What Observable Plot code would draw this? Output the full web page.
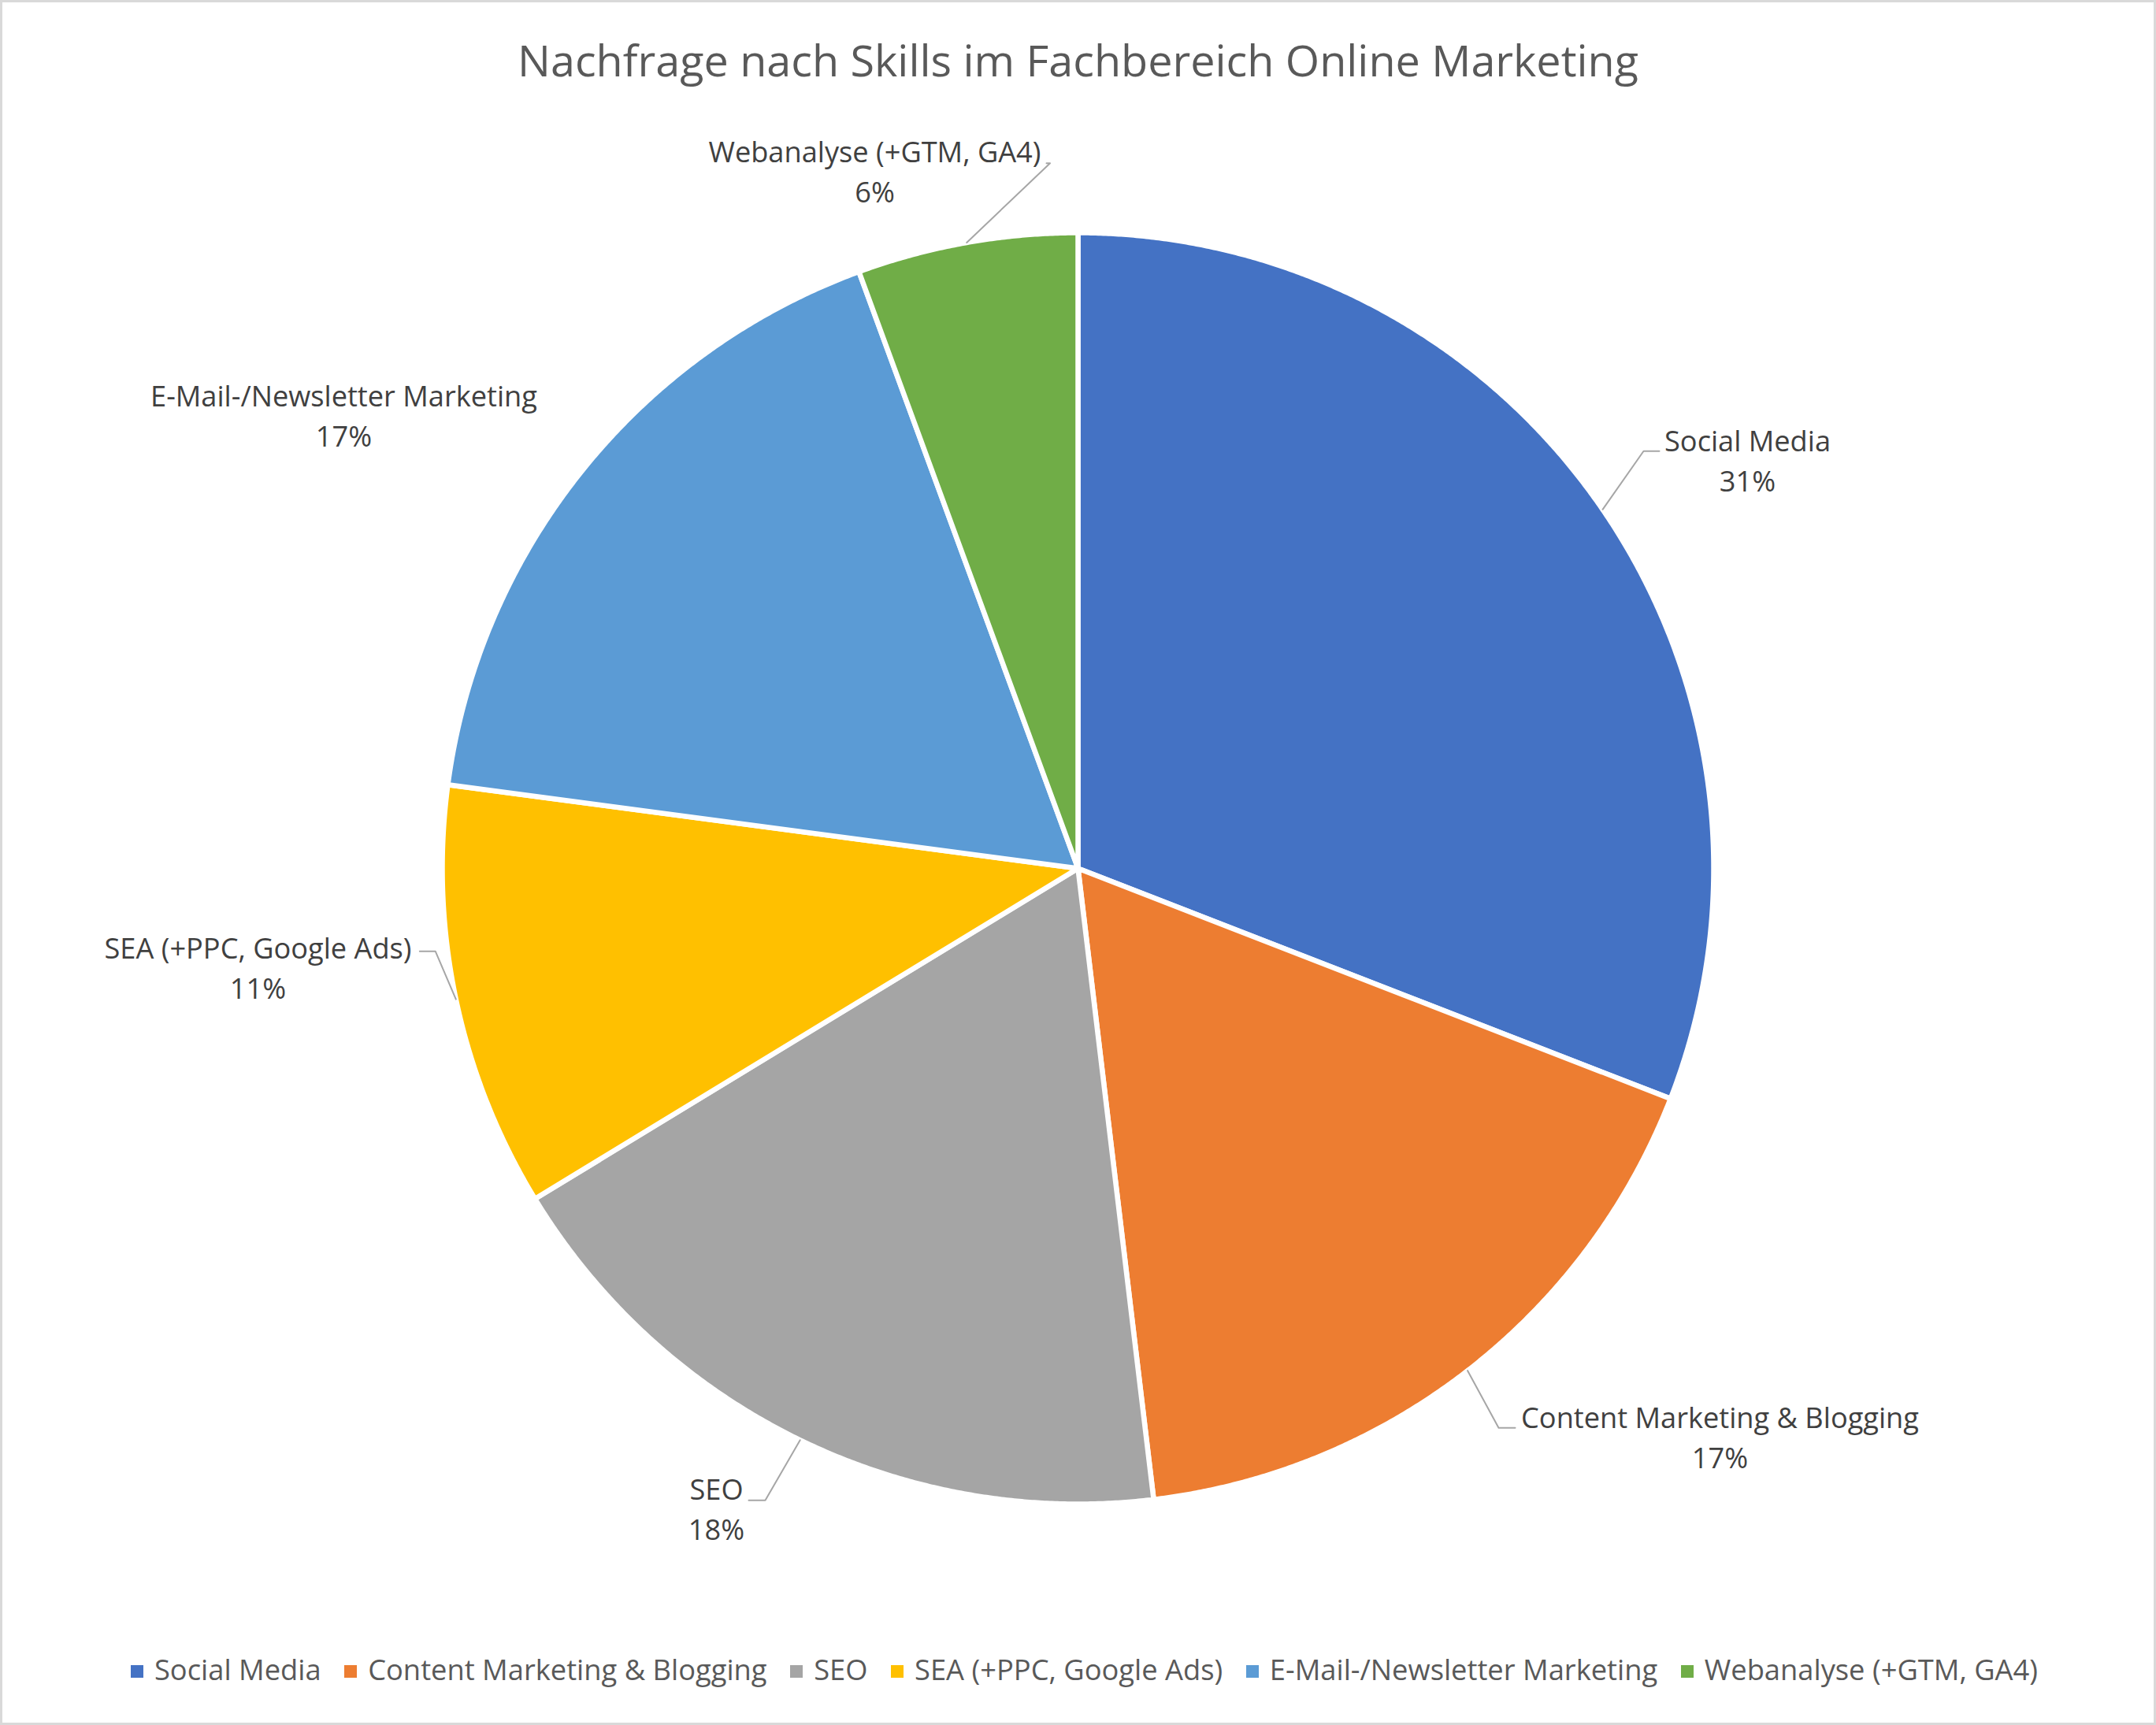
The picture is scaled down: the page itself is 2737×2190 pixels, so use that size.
<!DOCTYPE html>
<html><head><meta charset="utf-8">
<script src="https://cdn.jsdelivr.net/npm/d3@7"></script>
<script src="https://cdn.jsdelivr.net/npm/@observablehq/plot@0.6"></script>
<style>
html,body{margin:0;padding:0;background:#fff;}
#chart{position:relative;width:2737px;height:2190px;overflow:hidden;font-family:"Open Sans",sans-serif;background:#fff;}
#plot{position:absolute;left:0;top:0;}
#frame{position:absolute;left:0;top:0;width:2737px;height:2190px;box-sizing:border-box;border:3px solid #d9d9d9;pointer-events:none;}
#title{position:absolute;left:0;width:2737px;top:47.8px;text-align:center;font-size:55.7px;line-height:55.7px;color:#595959;white-space:nowrap;}
#legend{position:absolute;left:0;width:2737px;top:2100.6px;display:flex;justify-content:center;font-size:36.3px;line-height:36.3px;color:#595959;white-space:nowrap;transform:translateX(8px);}
#legend .item{margin:0 14.8px;}
#legend .sw{display:inline-block;width:16px;height:16px;margin-right:14px;position:relative;top:-2.7px;vertical-align:baseline;}
</style></head><body>
<div id="chart"><div id="plot"></div><div id="frame"></div><div id="title"></div><div id="legend"></div></div>
<script>
// ---- data ----
const titleText = "Nachfrage nach Skills im Fachbereich Online Marketing";
const categories = ["Social Media", "Content Marketing & Blogging", "SEO", "SEA (+PPC, Google Ads)", "E-Mail-/Newsletter Marketing", "Webanalyse (+GTM, GA4)"];
const shares = [30.9, 17.2, 18.2, 10.8, 17.3, 5.6];
const colors = ["#4472C4", "#ED7D31", "#A5A5A5", "#FFC000", "#5B9BD5", "#70AD47"];

// ---- layout (pixels) ----
const W = 2737, H = 2190;
const cx = 1368, cy = 1102, R = 807;
// label centre x and baseline of the last line
const labelX = [2218, 2183, 909, 327, 436, 1110];
const labelY = [623.3, 1863.3, 1954.3, 1267.3, 566.7, 256.7];
// leader elbow and end points (null = no leader)
const leaders = [
  [[2086, 572.3], [2106, 572.3]],
  [[1902, 1812.3], [1923, 1812.3]],
  [[971, 1904.3], [950, 1904.3]],
  [[552.3, 1207.3], [532.3, 1207.3]],
  null,
  [[1332.5, 206.7], [1328, 206.7]]
];

const ux = px => (px - cx) / R;
const uy = py => (py - cy) / R;

const total = d3.sum(shares);
const arcs = d3.pie().sort(null).value(d => d)(shares);

const slicePts = [];
arcs.forEach((a, i) => {
  slicePts.push({name: categories[i], x: 0, y: 0});
  const n = Math.max(2, Math.ceil((a.endAngle - a.startAngle) / 0.004));
  for (let k = 0; k <= n; k++) {
    const t = a.startAngle + (a.endAngle - a.startAngle) * k / n;
    slicePts.push({name: categories[i], x: Math.sin(t), y: -Math.cos(t)});
  }
});

const leaderPts = [];
arcs.forEach((a, i) => {
  if (!leaders[i]) return;
  const m = (a.startAngle + a.endAngle) / 2;
  leaderPts.push({id: i, x: Math.sin(m), y: -Math.cos(m)});
  leaders[i].forEach(p => leaderPts.push({id: i, x: ux(p[0]), y: uy(p[1])}));
});

const labels = categories.map((c, i) => ({
  x: ux(labelX[i]), y: uy(labelY[i]),
  text: c + "\n" + Math.round(shares[i] / total * 100) + "%"
}));

const chart = Plot.plot({
  width: W, height: H,
  margin: 0,
  x: {domain: [ux(0), ux(W)], range: [0, W], axis: null},
  y: {domain: [uy(0), uy(H)], range: [0, H], axis: null},
  color: {domain: categories, range: colors},
  style: {background: "transparent", fontFamily: "Open Sans"},
  marks: [
    Plot.line(slicePts, {x: "x", y: "y", z: "name", fill: "name", stroke: "white", strokeWidth: 6.5, strokeLinejoin: "round", curve: "linear-closed"}),
    Plot.line(leaderPts, {x: "x", y: "y", z: "id", stroke: "#a6a6a6", strokeWidth: 2}),
    Plot.text(labels, {x: "x", y: "y", text: "text", textAnchor: "middle", lineAnchor: "bottom", fontSize: 36.2, lineHeight: 51 / 36.2, fill: "#404040"})
  ]
});
document.getElementById("plot").appendChild(chart);
document.getElementById("title").textContent = titleText;

const legend = document.getElementById("legend");
categories.forEach((c, i) => {
  const item = document.createElement("span");
  item.className = "item";
  const sw = document.createElement("span");
  sw.className = "sw";
  sw.style.background = colors[i];
  item.appendChild(sw);
  item.appendChild(document.createTextNode(c));
  legend.appendChild(item);
});
</script>
</body></html>
